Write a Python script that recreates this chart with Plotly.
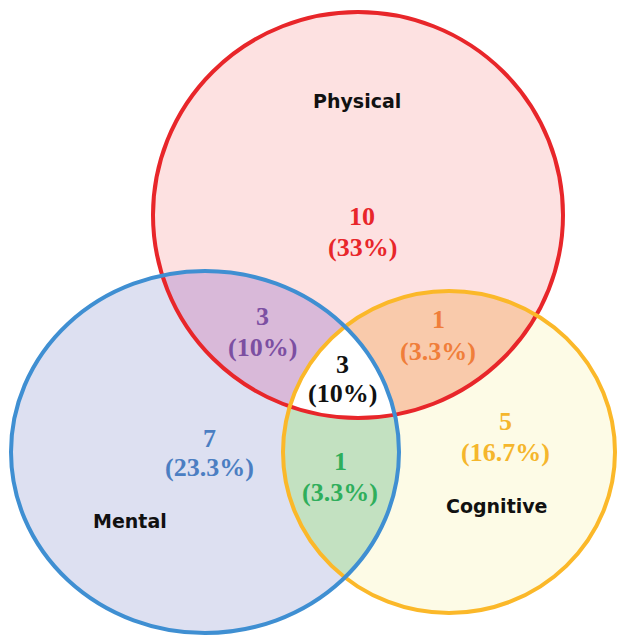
import numpy as np
import plotly.graph_objects as go

# ---- data ----
sets = ["Physical", "Mental", "Cognitive"]
regions = ["Physical only", "Mental only", "Cognitive only",
           "Physical & Mental", "Physical & Cognitive", "Mental & Cognitive", "All three"]
counts = [10, 7, 5, 3, 1, 1, 3]
percents = ["33%", "23.3%", "16.7%", "10%", "3.3%", "3.3%", "10%"]

# ---- layout (pixel-like coordinates) ----
W, H = 618, 640
ellipses = {
    "Physical": (358, 215, 205, 203),
    "Mental": (205, 452, 194, 181),
    "Cognitive": (449, 452, 166, 161),
}
stroke = {"Physical": "#E8262A", "Mental": "#3F8FD2", "Cognitive": "#FBB829"}
fill_single = {"Physical": "#FDE1E1", "Mental": "#DDE0F1", "Cognitive": "#FDFBE6"}
fill_pair = {("Physical", "Mental"): "#D9B9D9",
             ("Physical", "Cognitive"): "#F9CAAB",
             ("Mental", "Cognitive"): "#C3E1C1"}
fill_all = "#FFFFFF"

region_pos = [(362, 216, 247), (209, 438, 467), (505, 421, 452),
              (262, 316, 347), (438, 319, 351), (340, 461, 492), (342, 364, 393)]
region_color = ["#E8262A", "#4B7EC2", "#F5B62C", "#7C4FA2", "#F07E3A", "#2FAE5B", "#111111"]
label_pos = {"Physical": (357, 101), "Mental": (130, 521), "Cognitive": (497, 506)}


def ell_pts(e, n=720):
    cx, cy, rx, ry = e
    t = np.linspace(0, 2 * np.pi, n, endpoint=False)
    return np.c_[cx + rx * np.cos(t), cy + ry * np.sin(t)]


def inside(p, e):
    cx, cy, rx, ry = e
    return ((p[:, 0] - cx) / rx) ** 2 + ((p[:, 1] - cy) / ry) ** 2 <= 1.0 + 1e-9


def intersect(names):
    pts = []
    for a in names:
        p = ell_pts(ellipses[a])
        mask = np.ones(len(p), bool)
        for b in names:
            if b != a:
                mask &= inside(p, ellipses[b])
        pts.append(p[mask])
    p = np.vstack(pts)
    c = p.mean(axis=0)
    order = np.argsort(np.arctan2(p[:, 1] - c[1], p[:, 0] - c[0]))
    p = p[order]
    return np.vstack([p, p[:1]])


fig = go.Figure()


def add_poly(p, color):
    fig.add_trace(go.Scatter(x=p[:, 0], y=p[:, 1], mode="lines", fill="toself",
                             fillcolor=color, line=dict(width=0, color=color),
                             hoverinfo="skip", showlegend=False))


for s in sets:
    p = ell_pts(ellipses[s])
    add_poly(np.vstack([p, p[:1]]), fill_single[s])
for pair, col in fill_pair.items():
    add_poly(intersect(list(pair)), col)
add_poly(intersect(sets), fill_all)

for s in ["Physical", "Cognitive", "Mental"]:
    cx, cy, rx, ry = ellipses[s]
    fig.add_shape(type="circle", xref="x", yref="y", x0=cx - rx, x1=cx + rx,
                  y0=cy - ry, y1=cy + ry, line=dict(color=stroke[s], width=4), layer="above")

serif = "Liberation Serif"
for i, r in enumerate(regions):
    x, y1, y2 = region_pos[i]
    fig.add_annotation(x=x, y=y1, text=f"<b>{counts[i]}</b>", showarrow=False,
                       font=dict(family=serif, size=26, color=region_color[i]))
    fig.add_annotation(x=x, y=y2, text=f"<b>({percents[i]})</b>", showarrow=False,
                       font=dict(family=serif, size=26, color=region_color[i]))

for s in sets:
    x, y = label_pos[s]
    fig.add_annotation(x=x, y=y, text=f"<b>{s}</b>", showarrow=False,
                       font=dict(family="DejaVu Sans", size=19, color="#111111"))

fig.update_xaxes(range=[0, W], visible=False, fixedrange=True)
fig.update_yaxes(range=[H, 0], visible=False, fixedrange=True)
fig.update_layout(width=W, height=H, margin=dict(l=0, r=0, t=0, b=0),
                  plot_bgcolor="white", paper_bgcolor="white", showlegend=False)
fig.write_html("out.html", config={"displayModeBar": False},
               post_script="document.body.style.margin='0';document.body.style.overflow='hidden';")
